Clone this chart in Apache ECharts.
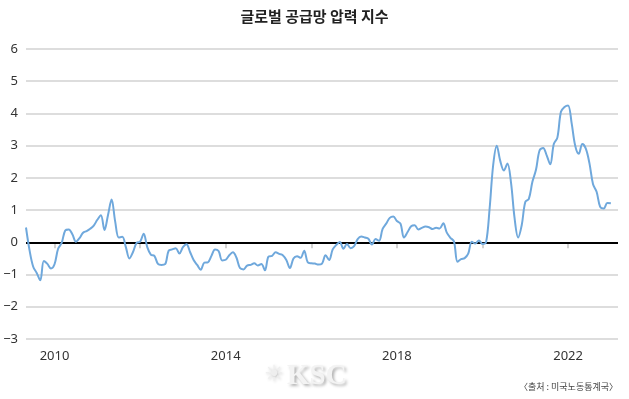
<!DOCTYPE html>
<html>
<head>
<meta charset="utf-8">
<script src="https://cdn.jsdelivr.net/npm/echarts@6/dist/echarts.min.js"></script>
<style>
html,body{margin:0;padding:0;background:#fff;}
#chart{width:629px;height:399px;}
</style>
</head>
<body>
<div id="chart"></div>
<script>
// ---- data ----
const titleText = '글로벌 공급망 압력 지수';
const sourceText = '〈출처 : 미국노동통계국〉';
const startYear = 2009, startMonth = 5, monthCount = 167;
const tickYears = ['2010', '2012', '2014', '2016', '2018', '2020', '2022'];
const labelYears = ['2010', '2014', '2018', '2022'];
const yTicks = [-3, -2, -1, 0, 1, 2, 3, 4, 5, 6];
// monthly index values, May 2009 .. Jan 2023
const gscpi = [
  0.46, -0.25, -0.75, -0.95, -1.18, -0.58, -0.67, -0.81, -0.68, -0.20,
  -0.02, 0.37, 0.40, 0.25, 0.02, 0.13, 0.30, 0.35, 0.42, 0.52,
  0.70, 0.84, 0.38, 0.85, 1.33, 0.65, 0.15, 0.17, -0.15, -0.50,
  -0.30, -0.02, 0.02, 0.27, -0.15, -0.38, -0.42, -0.67, -0.70, -0.68,
  -0.26, -0.22, -0.18, -0.35, -0.15, -0.06, -0.30, -0.55, -0.70, -0.85,
  -0.63, -0.62, -0.42, -0.22, -0.27, -0.56, -0.54, -0.40, -0.31, -0.47,
  -0.80, -0.84, -0.72, -0.70, -0.65, -0.72, -0.67, -0.87, -0.44, -0.42,
  -0.31, -0.36, -0.40, -0.55, -0.80, -0.50, -0.43, -0.48, -0.26, -0.62,
  -0.65, -0.66, -0.69, -0.66, -0.40, -0.55, -0.22, -0.08, 0.01, -0.20,
  -0.05, -0.18, -0.12, 0.10, 0.18, 0.15, 0.11, -0.07, 0.10, 0.05,
  0.42, 0.58, 0.76, 0.80, 0.66, 0.58, 0.15, 0.32, 0.50, 0.53,
  0.40, 0.45, 0.49, 0.47, 0.41, 0.45, 0.43, 0.59, 0.30, 0.14,
  0.03, -0.60, -0.52, -0.49, -0.35, 0.02, -0.04, 0.06, -0.05, 0.00,
  1.05, 2.40, 3.00, 2.52, 2.23, 2.45, 1.85, 0.75, 0.15, 0.53,
  1.25, 1.35, 1.88, 2.25, 2.85, 2.93, 2.70, 2.42, 3.05, 3.25,
  4.05, 4.20, 4.25, 3.70, 3.00, 2.75, 3.05, 2.90, 2.45, 1.80,
  1.57, 1.10, 1.05, 1.22, 1.21
];

// ---- axis categories ----
const months = [];
for (let i = 0; i < monthCount; i++) {
  const m0 = startMonth - 1 + i;
  const y = startYear + Math.floor(m0 / 12);
  const m = (m0 % 12) + 1;
  months.push(y + '-' + (m < 10 ? '0' + m : m));
}
const isJanOf = (val, list) => val.slice(5) === '01' && list.indexOf(val.slice(0, 4)) >= 0;

const chart = echarts.init(document.getElementById('chart'), null, {renderer: 'canvas'});
chart.setOption({
  animation: false,
  backgroundColor: '#ffffff',
  grid: {left: 26, right: 11, top: 49, bottom: 60, containLabel: false},
  xAxis: {
    type: 'category',
    data: months,
    boundaryGap: false,
    axisLine: {show: false},
    axisTick: {
      show: true,
      length: 6,
      interval: (idx, val) => isJanOf(val, tickYears),
      lineStyle: {color: '#c4c4c4', width: 1.5}
    },
    axisLabel: {
      interval: (idx, val) => isJanOf(val, labelYears),
      formatter: (val) => val.slice(0, 4),
      margin: 11,
      fontFamily: 'Noto Sans',
      fontSize: 13,
      color: '#333'
    },
    splitLine: {show: false}
  },
  yAxis: {
    type: 'value',
    min: yTicks[0],
    max: yTicks[yTicks.length - 1],
    interval: 1,
    axisLine: {show: false},
    axisTick: {show: false},
    axisLabel: {
      margin: 8,
      fontFamily: 'Noto Sans',
      fontSize: 13,
      color: '#333',
      formatter: (v) => (v < 0 ? '\u2212' + Math.abs(v) : String(v))
    },
    splitLine: {show: true, lineStyle: {color: '#d2d2d2', width: 1.5}}
  },
  series: [{
    type: 'line',
    data: gscpi,
    smooth: 0.35,
    showSymbol: false,
    symbol: 'none',
    lineStyle: {color: '#6fa8dc', width: 2},
    z: 3,
    markLine: {
      silent: true,
      symbol: 'none',
      z: 2,
      label: {show: false},
      lineStyle: {color: '#000', width: 2, type: 'solid'},
      data: [{yAxis: 0}]
    }
  }],
  graphic: [
    {
      type: 'text', left: 'center', top: 9, x: 6,
      style: {text: titleText, font: 'bold 15px "Noto Sans CJK KR"', fill: '#222'}
    },
    {
      type: 'text', right: 11, top: 382,
      style: {text: sourceText, font: '9px "Noto Sans CJK KR"', fill: '#444'}
    },
    {
      type: 'text', left: 264, top: 364,
      style: {text: '\u2600', font: '22px "DejaVu Sans"', fill: '#eeeeee',
        textShadowColor: 'rgba(0,0,0,0.25)', textShadowBlur: 3, textShadowOffsetX: 1, textShadowOffsetY: 1}
    },
    {
      type: 'text', left: 287, top: 362,
      style: {text: 'KSC', font: 'bold 29px "Liberation Serif"', fill: '#f3f3f3',
        textShadowColor: 'rgba(0,0,0,0.3)', textShadowBlur: 3, textShadowOffsetX: 2, textShadowOffsetY: 2}
    }
  ]
});
</script>
</body>
</html>
